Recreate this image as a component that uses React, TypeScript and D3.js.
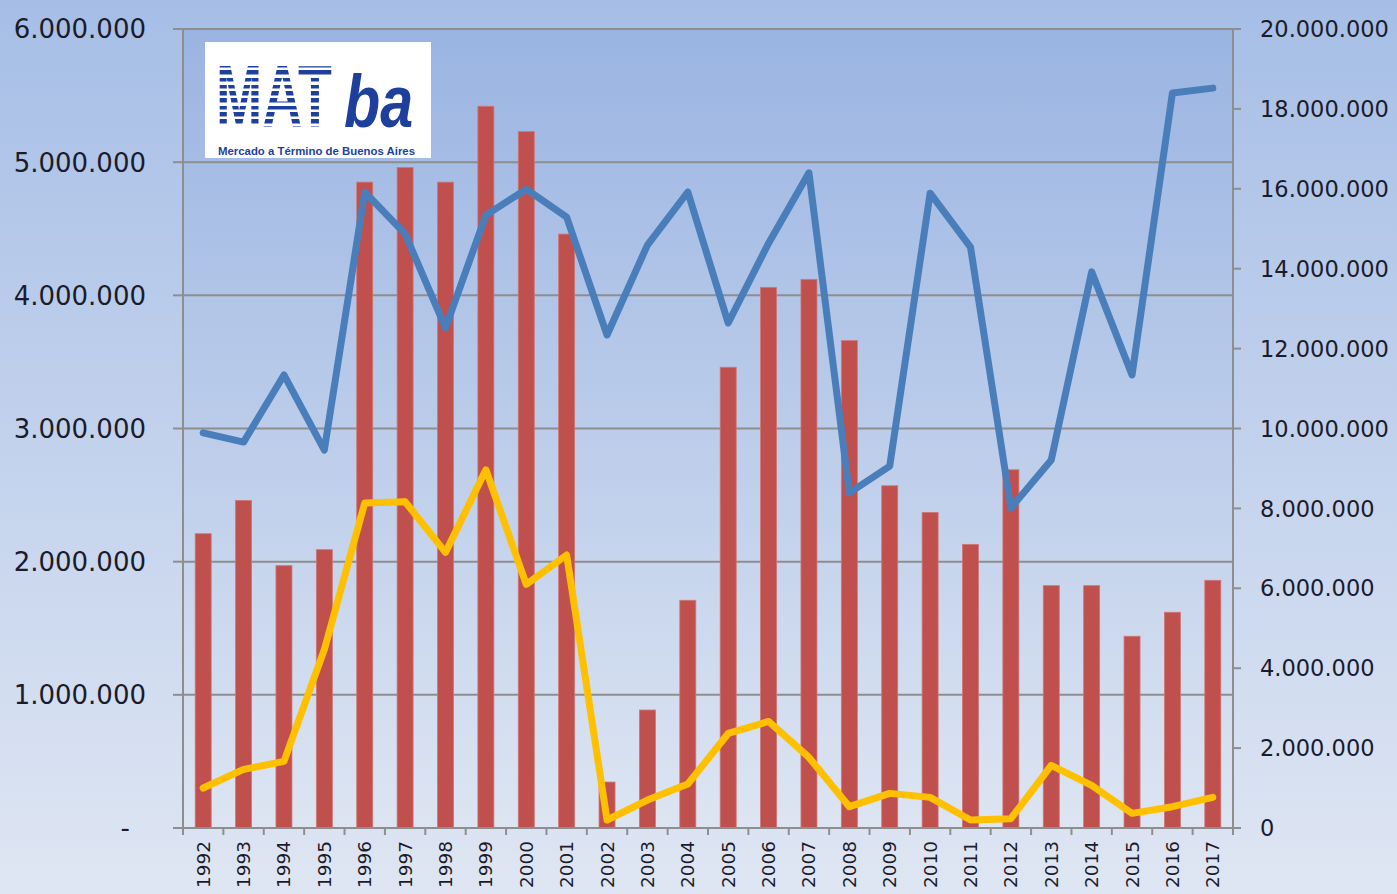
import React from "react";
import * as d3 from "d3";

const years = ["1992","1993","1994","1995","1996","1997","1998","1999","2000","2001","2002","2003","2004","2005","2006","2007","2008","2009","2010","2011","2012","2013","2014","2015","2016","2017"];

// red bars (left axis)
const barValues = [2210000,2460000,1970000,2090000,4850000,4960000,4850000,5420000,5230000,4460000,345000,886000,1710000,3460000,4060000,4120000,3660000,2570000,2370000,2130000,2690000,1820000,1820000,1440000,1620000,1860000];

// blue line (right axis)
const blueValues = [9890000,9660000,11340000,9460000,15920000,14870000,12520000,15340000,15990000,15290000,12340000,14590000,15920000,12640000,14640000,16400000,8390000,9060000,15890000,14540000,8010000,9210000,13920000,11340000,18400000,18520000];

// yellow line (left axis)
const yellowValues = [300000,440000,500000,1340000,2440000,2450000,2070000,2690000,1830000,2050000,60000,210000,330000,710000,800000,530000,160000,260000,230000,60000,70000,470000,320000,110000,160000,230000];

const leftTicks = [0,1000000,2000000,3000000,4000000,5000000,6000000];
const rightTicks = [0,2000000,4000000,6000000,8000000,10000000,12000000,14000000,16000000,18000000,20000000];

const W = 1397, H = 894;
const M = { left: 183, right: 1233, top: 29, bottom: 828 };

function fmt(v: number) {
  if (v === 0) return "-";
  return d3.format(",")(v).replace(/,/g, ".");
}

export default function App() {
  const x = d3.scaleBand<string>().domain(years).range([M.left, M.right]).paddingInner(0).paddingOuter(0);
  const yL = d3.scaleLinear().domain([0, 6000000]).range([M.bottom, M.top]);
  const yR = d3.scaleLinear().domain([0, 20000000]).range([M.bottom, M.top]);
  const bw = 16;
  const cx = (y: string) => (x(y) as number) + x.bandwidth() / 2;

  const blueLine = d3.line<number>().x((_, i) => cx(years[i])).y((d) => yR(d))(blueValues) as string;
  const yellowLine = d3.line<number>().x((_, i) => cx(years[i])).y((d) => yL(d))(yellowValues) as string;

  const font = "'DejaVu Sans', Verdana, sans-serif";
  const logoFont = "'Liberation Sans', Arial, sans-serif";
  const axisColor = "#8e8e8e";
  const textColor = "#1b1b2a";

  const boundaries = years.map((y) => x(y) as number).concat([M.right]);

  return (
    <svg width={W} height={H} style={{ position: "absolute", left: 0, top: 0 }} xmlns="http://www.w3.org/2000/svg">
      <defs>
        <linearGradient id="bgOuter" x1="0" y1="0" x2="0" y2="1">
          <stop offset="0%" stopColor="#a6bee6" />
          <stop offset="100%" stopColor="#dfe6f3" />
        </linearGradient>
        <linearGradient id="bgPlot" x1="0" y1="0" x2="0" y2="1">
          <stop offset="0%" stopColor="#9ab4e2" />
          <stop offset="100%" stopColor="#dde5f2" />
        </linearGradient>
        <pattern id="stripes" x="0" y="0" width="8" height="7" patternUnits="userSpaceOnUse">
          <rect x="0" y="0" width="8" height="7" fill="#ffffff" />
          <rect x="0" y="0" width="8" height="4.5" fill="#1e3f9c" />
        </pattern>
      </defs>
      <rect x={0} y={0} width={W} height={H} fill="url(#bgOuter)" />
      <rect x={M.left} y={M.top} width={M.right - M.left} height={M.bottom - M.top} fill="url(#bgPlot)" />

      {/* gridlines */}
      {leftTicks.map((t) => (
        <line key={"g" + t} x1={M.left} x2={M.right} y1={yL(t)} y2={yL(t)} stroke={axisColor} strokeWidth={2} />
      ))}

      {/* left axis */}
      <line x1={M.left} x2={M.left} y1={M.top} y2={M.bottom + 7} stroke={axisColor} strokeWidth={2} />
      {leftTicks.map((t) => (
        <g key={"l" + t}>
          <line x1={M.left - 10} x2={M.left} y1={yL(t)} y2={yL(t)} stroke={axisColor} strokeWidth={2} />
          <text x={t === 0 ? 130 : 146} y={yL(t)} dy="0.36em" textAnchor="end" fontFamily={font} fontSize={26} fill={textColor}>
            {fmt(t)}
          </text>
        </g>
      ))}

      {/* right axis */}
      <line x1={M.right} x2={M.right} y1={M.top} y2={M.bottom + 7} stroke={axisColor} strokeWidth={2} />
      {rightTicks.map((t) => (
        <g key={"r" + t}>
          <line x1={M.right} x2={M.right + 8} y1={yR(t)} y2={yR(t)} stroke={axisColor} strokeWidth={2} />
          <text x={1260} y={yR(t)} dy="0.36em" textAnchor="start" fontFamily={font} fontSize={22.5} fill={textColor}>
            {t === 0 ? "0" : fmt(t)}
          </text>
        </g>
      ))}

      {/* x axis ticks */}
      {boundaries.map((b, i) => (
        <line key={"xt" + i} x1={b} x2={b} y1={M.bottom} y2={M.bottom + 7} stroke={axisColor} strokeWidth={2} />
      ))}
      {years.map((y) => (
        <text key={"xl" + y} transform={`translate(${cx(y) + 6.5},${841}) rotate(-90)`} textAnchor="end" fontFamily={font} fontSize={18.5} fill={textColor}>
          {y}
        </text>
      ))}

      {/* bars */}
      {years.map((y, i) => (
        <rect key={"b" + y} x={cx(y) - bw / 2} y={yL(barValues[i])} width={bw} height={M.bottom - yL(barValues[i])} fill="#c0504d" stroke="#cf7774" strokeWidth={0.8} />
      ))}

      {/* x axis line */}
      <line x1={M.left} x2={M.right} y1={M.bottom} y2={M.bottom} stroke={axisColor} strokeWidth={2} />

      {/* lines */}
      <path d={blueLine} fill="none" stroke="#4a7ebb" strokeWidth={7} strokeLinejoin="round" strokeLinecap="round" />
      <path d={yellowLine} fill="none" stroke="#ffc000" strokeWidth={7} strokeLinejoin="round" strokeLinecap="round" />

      {/* logo */}
      <g>
        <rect x={205} y={42} width={226} height={116} fill="#ffffff" />
        <text transform="translate(216,126) scale(0.63,1)" x={0} y={0} fontFamily={logoFont} fontWeight="bold" fontSize={88} fill="url(#stripes)">
          MAT
        </text>
        <text transform="translate(344,127) scale(0.8,1)" x={0} y={0} fontFamily={logoFont} fontWeight="bold" fontStyle="italic" fontSize={74} fill="#1e3f9c">
          ba
        </text>
        <text x={218} y={155} fontFamily={logoFont} fontWeight="bold" fontSize={10.5} fill="#1e3f9c" textLength={197} lengthAdjust="spacingAndGlyphs">
          Mercado a Término de Buenos Aires
        </text>
      </g>
    </svg>
  );
}
